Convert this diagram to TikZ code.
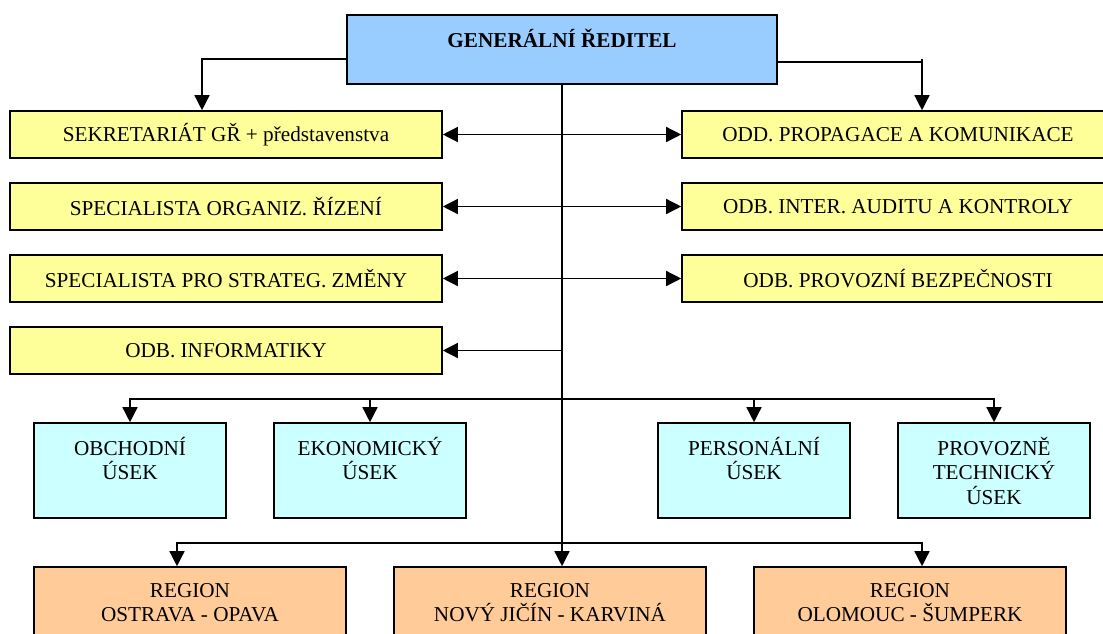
\documentclass[tikz,border=0pt]{standalone}
\usepackage{fontspec}
\setmainfont{Liberation Serif}
\usetikzlibrary{arrows.meta,shadows}

\definecolor{gdblue}{HTML}{99CCFF}
\definecolor{staffyellow}{HTML}{FFFF99}
\definecolor{divcyan}{HTML}{CCFFFF}
\definecolor{regorange}{HTML}{FFCC99}

\tikzset{
  box/.style={draw=black, line width=1.6pt, rectangle, inner sep=0pt,
    align=center, font=\fontsize{21.2}{24.5}\selectfont,
    drop shadow={shadow xshift=1.4pt, shadow yshift=-1.4pt, fill=black!30, opacity=1}},
  gdbox/.style={box, fill=gdblue, minimum width=430pt, minimum height=69pt,
    font=\fontsize{21.2}{24.5}\selectfont\bfseries},
  staffbox/.style={box, fill=staffyellow, minimum width=432pt, minimum height=47pt},
  divbox/.style={box, fill=divcyan, minimum width=192pt, minimum height=95pt},
  regbox/.style={box, fill=regorange, minimum width=312pt, minimum height=71pt},
  link/.style={draw=black, line width=1.4pt},
  arr/.style={link, -{Triangle[length=15pt, width=15pt]}},
  biarr/.style={link, {Triangle[length=15pt, width=15pt]}-{Triangle[length=15pt, width=15pt]}}
}

\begin{document}
\begin{tikzpicture}[x=1pt, y=-1pt]
  \useasboundingbox (0,0) rectangle (1103,634);

  % top management
  \node[gdbox] (gr) at (562,49.5) {GENERÁLNÍ ŘEDITEL\\[-10pt]\strut};

  % staff units, left column
  \node[staffbox] (sek) at (226,134.5) {SEKRETARIÁT GŘ + představenstva};
  \node[staffbox] (org) at (226,206.5) {SPECIALISTA ORGANIZ. ŘÍZENÍ};
  \node[staffbox] (str) at (226,278.5) {SPECIALISTA PRO STRATEG. ZMĚNY};
  \node[staffbox] (inf) at (226,350.5) {ODB. INFORMATIKY};

  % staff units, right column
  \node[staffbox] (pro) at (898,134.5) {ODD. PROPAGACE A KOMUNIKACE};
  \node[staffbox] (aud) at (898,206.5) {ODB. INTER. AUDITU A KONTROLY};
  \node[staffbox] (bez) at (898,278.5) {ODB. PROVOZNÍ BEZPEČNOSTI};

  % divisions
  \node[divbox] (obch) at (130,470.5) {OBCHODNÍ\\ÚSEK\\[-8pt]\strut};
  \node[divbox] (ekon) at (370,470.5) {EKONOMICKÝ\\ÚSEK\\[-8pt]\strut};
  \node[divbox] (pers) at (754,470.5) {PERSONÁLNÍ\\ÚSEK\\[-8pt]\strut};
  \node[divbox] (prov) at (994,470.5) {PROVOZNĚ\\TECHNICKÝ\\ÚSEK};

  % regions
  \node[regbox] (reg1) at (190,602.5) {REGION\\OSTRAVA - OPAVA};
  \node[regbox] (reg2) at (550,602.5) {REGION\\NOVÝ JIČÍN - KARVINÁ};
  \node[regbox] (reg3) at (910,602.5) {REGION\\OLOMOUC - ŠUMPERK};

  % branch points
  \coordinate (rtop) at (922,59);
  \coordinate (hubdiv) at (562,399);
  \coordinate (hubreg) at (562,543);

  % side branches from the director
  \draw[arr] ([yshift=-9.5pt]gr.west) -| ([xshift=-24pt]sek.north);
  \draw[link] ([yshift=-12.5pt]gr.east) -- ([yshift=-12.5pt]gr.east -| rtop);
  \draw[arr] (rtop) -- (rtop |- pro.north);

  % main trunk
  \draw[arr] (gr.south) -- (gr.south |- reg2.north);

  % staff links
  \draw[biarr] (sek.east) -- (pro.west);
  \draw[biarr] (org.east) -- (aud.west);
  \draw[biarr] (str.east) -- (bez.west);
  \draw[arr] (gr.south |- inf.east) -- (inf.east);

  % division links
  \draw[arr] (hubdiv) -| (obch.north);
  \draw[arr] (hubdiv) -| (ekon.north);
  \draw[arr] (hubdiv) -| (pers.north);
  \draw[arr] (hubdiv) -| (prov.north);

  % region links
  \draw[arr] (hubreg) -| ([xshift=-13pt]reg1.north);
  \draw[arr] (hubreg) -| ([xshift=12pt]reg3.north);
\end{tikzpicture}
\end{document}
